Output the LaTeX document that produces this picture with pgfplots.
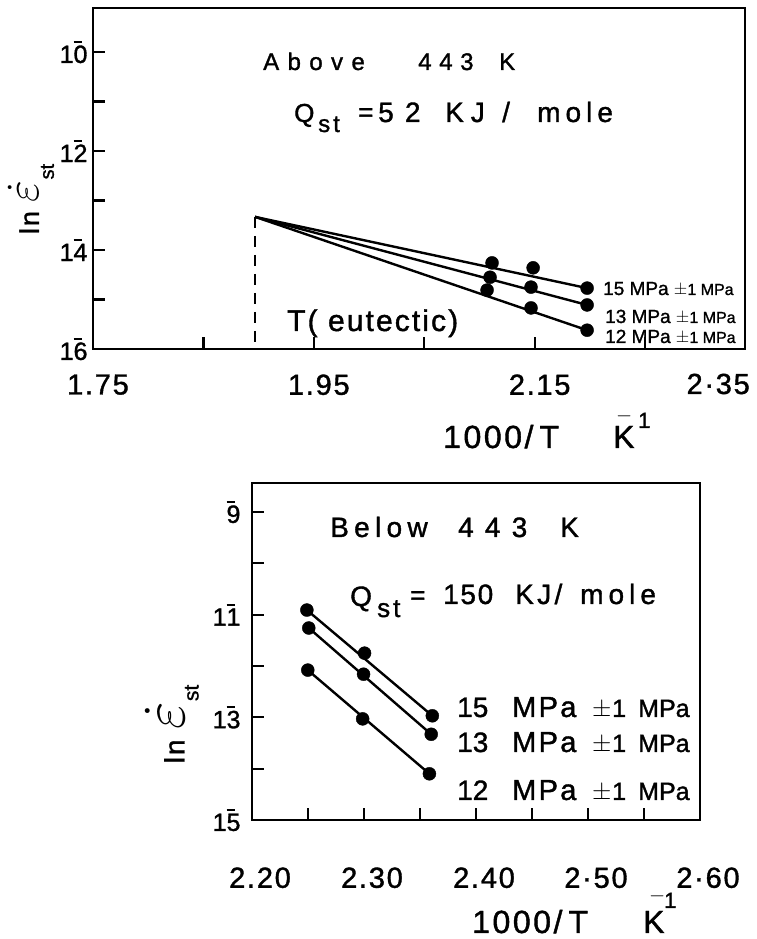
\documentclass[border=0pt]{standalone}
\usepackage{pgfplots}
\pgfplotsset{compat=1.18}
\usepackage{fontspec}
\setmainfont{Liberation Sans}[FakeBold=1.3]
% negative characteristic: a short bar over the second digit
\newcommand{\nb}[2]{#1\makebox[0pt][l]{\raisebox{0.8em}{\rule{0.34em}{0.08em}}}#2}
\newcommand{\fs}[1]{\fontsize{#1}{#1}\selectfont}
\newcommand{\ls}[1]{\addfontfeatures{LetterSpace=#1}}
\newcommand{\pos}[2]{(#1pt,{939pt-#2pt})}

\begin{document}
\begin{tikzpicture}
\useasboundingbox (0,0) rectangle (757pt,939pt);
\tikzset{lab/.style={anchor=base west, inner sep=0pt}}
\pgfplotsset{
  panel/.style={
    scale only axis, anchor=south west, clip=false,
    axis line style={line width=2.5pt},
    tick pos=left, tick align=inside,
    major tick length=12pt,
    every tick/.style={line width=2.2pt, black},
    xticklabel style={font=\fs{29}\ls{6}, anchor=north, yshift=-22pt, xshift=5pt},
    yticklabel style={font=\fs{25}, anchor=east, xshift=-2pt},
  },
  ser/.style={black, line width=2.4pt, no marks},
  dots/.style={only marks, mark=*, mark size=6.5pt, black},
}

% ---------- above the eutectic temperature ----------
\begin{axis}[panel, at={(93pt,590pt)}, width=652pt, height=341pt,
  xmin=1.75, xmax=2.3405, ymin=-16, ymax=-9.11,
  xtick={1.75,1.85,1.95,2.05,2.15,2.25},
  xticklabels={1.75,,1.95,,2.15,},
  ytick={-16,-15,-14,-13,-12,-11,-10},
  yticklabels={\nb{1}{6},,\nb{1}{4},,\nb{1}{2},,\nb{1}{0}},
]
\addplot[black, line width=2.2pt, dash pattern=on 11pt off 8pt]
  coordinates {(1.8967,-13.33) (1.8967,-16)};
\addplot[ser] coordinates {(1.8967,-13.33) (2.1975,-14.77)};
\addplot[ser] coordinates {(1.8967,-13.33) (2.1975,-15.11)};
\addplot[ser] coordinates {(1.8967,-13.33) (2.1975,-15.62)};
\addplot[dots] coordinates {(2.1114,-14.26) (2.1486,-14.36) (2.1975,-14.77)};
\addplot[dots] coordinates {(2.1096,-14.55) (2.1467,-14.75) (2.1975,-15.11)};
\addplot[dots] coordinates {(2.1069,-14.81) (2.1467,-15.17) (2.1975,-15.62)};
\end{axis}

% ---------- below the eutectic temperature ----------
\begin{axis}[panel, at={(252pt,119pt)}, width=448pt, height=337pt,
  xmin=2.20, xmax=2.60, ymin=-15, ymax=-8.435,
  xtick={2.20,2.25,2.30,2.35,2.40,2.45,2.50,2.55,2.60},
  xticklabels={2.20,,2.30,,2.40,,2·50,,2·60},
  ytick={-15,-14,-13,-12,-11,-10,-9},
  yticklabels={\nb{1}{5},,\nb{1}{3},,\nb{1}{1},,\nb{}{9}},
  xticklabel style={yshift=-22pt, xshift=3pt},
  yticklabel style={xshift=-6pt},
]
\addplot[ser] coordinates {(2.249,-10.91) (2.361,-12.97)};
\addplot[ser] coordinates {(2.2507,-11.26) (2.360,-13.33)};
\addplot[ser] coordinates {(2.2498,-12.08) (2.3584,-14.10)};
\addplot[dots] coordinates {(2.249,-10.91) (2.3005,-11.75) (2.361,-12.97)};
\addplot[dots] coordinates {(2.2507,-11.26) (2.2996,-12.16) (2.360,-13.33)};
\addplot[dots] coordinates {(2.2498,-12.08) (2.2988,-13.03) (2.3584,-14.10)};
\end{axis}

% ---------- annotations, upper panel ----------
\node[anchor=east, font=\fs{29}\ls{6}, inner sep=0pt] at \pos{750}{384} {2·35};
\node[lab, font=\fs{24}\ls{35}] at \pos{263}{70} {Above};
\node[lab, font=\fs{24}\ls{32}] at \pos{418}{70} {443};
\node[lab, font=\fs{24}] at \pos{499}{70} {K};
\node[lab, font=\fs{26}] at \pos{294}{122} {Q};
\node[lab, font=\fs{24}] at \pos{318}{132} {s\hspace{3pt}t};
\node[lab, font=\fs{26}] at \pos{358}{121} {=};
\node[lab, font=\fs{28}\ls{40}] at \pos{378}{122} {52};
\node[lab, font=\fs{28}\ls{25}] at \pos{445}{122} {KJ};
\node[lab, font=\fs{28}] at \pos{502}{122} {/};
\node[lab, font=\fs{28}\ls{18}] at \pos{537}{122} {mole};
\node[lab, font=\fs{30}\ls{7}] at \pos{287}{331} {T( eutectic)};
\node[lab, font=\fs{19}] at \pos{603}{295} {15 MPa {\fs{16}$\pm$1 MPa}};
\node[lab, font=\fs{19}] at \pos{605}{323} {13 MPa {\fs{16}$\pm$1 MPa}};
\node[lab, font=\fs{19}] at \pos{605}{343} {12 MPa {\fs{16}$\pm$1 MPa}};
\node[rotate=90, inner sep=0pt, font=\fs{27}] at \pos{31}{199}
  {l\hspace{2pt}n\hspace{9pt}\scalebox{1.9}{$\dot{\varepsilon}$}\hspace{1pt}\raisebox{-0.55em}{\fs{20}st}};
\node[lab, font=\fs{32}\ls{8}] at \pos{443}{448} {1000/\hspace{6pt}T};
\node[lab, font=\fs{32}] at \pos{613}{448} {K};
\node[lab, font=\fs{22}] at \pos{616}{422} {$-$};
\node[lab, font=\fs{22}] at \pos{638}{428} {1};

% ---------- annotations, lower panel ----------
\node[lab, font=\fs{28}\ls{19}] at \pos{330}{537} {Below};
\node[lab, font=\fs{28}\ls{40}] at \pos{458}{537} {443};
\node[lab, font=\fs{28}] at \pos{560}{537} {K};
\node[lab, font=\fs{28}] at \pos{350}{606} {Q};
\node[lab, font=\fs{26}] at \pos{377}{617} {s\hspace{3pt}t};
\node[lab, font=\fs{26}] at \pos{410}{604} {=};
\node[lab, font=\fs{28}\ls{6}] at \pos{443}{604} {150};
\node[lab, font=\fs{28}\ls{12}] at \pos{515}{604} {KJ/};
\node[lab, font=\fs{28}\ls{18}] at \pos{580}{604} {mole};
\foreach \v/\yy in {15/717, 13/752, 12/800} {
  \node[lab, font=\fs{28}] at \pos{457}{\yy} {\v};
  \node[lab, font=\fs{29}\ls{8}] at \pos{512}{\yy} {MPa};
  \node[lab, font=\fs{23}] at \pos{592}{\yy} {$\pm$};
  \node[lab, font=\fs{25}] at \pos{612}{\yy} {1};
  \node[lab, font=\fs{25}] at \pos{638}{\yy} {MPa};
}
\node[rotate=90, inner sep=0pt, font=\fs{28}] at \pos{172}{724}
  {l\hspace{2pt}n\hspace{10pt}\scalebox{2.4}{$\dot{\varepsilon}$}\hspace{1pt}\raisebox{-0.5em}{\fs{21}st}};
\node[lab, font=\fs{32}\ls{8}] at \pos{472}{933} {1000/\hspace{6pt}T};
\node[lab, font=\fs{32}] at \pos{643}{933} {K};
\node[lab, font=\fs{22}] at \pos{649}{902} {$-$};
\node[lab, font=\fs{22}] at \pos{664}{908} {1};
\end{tikzpicture}
\end{document}
